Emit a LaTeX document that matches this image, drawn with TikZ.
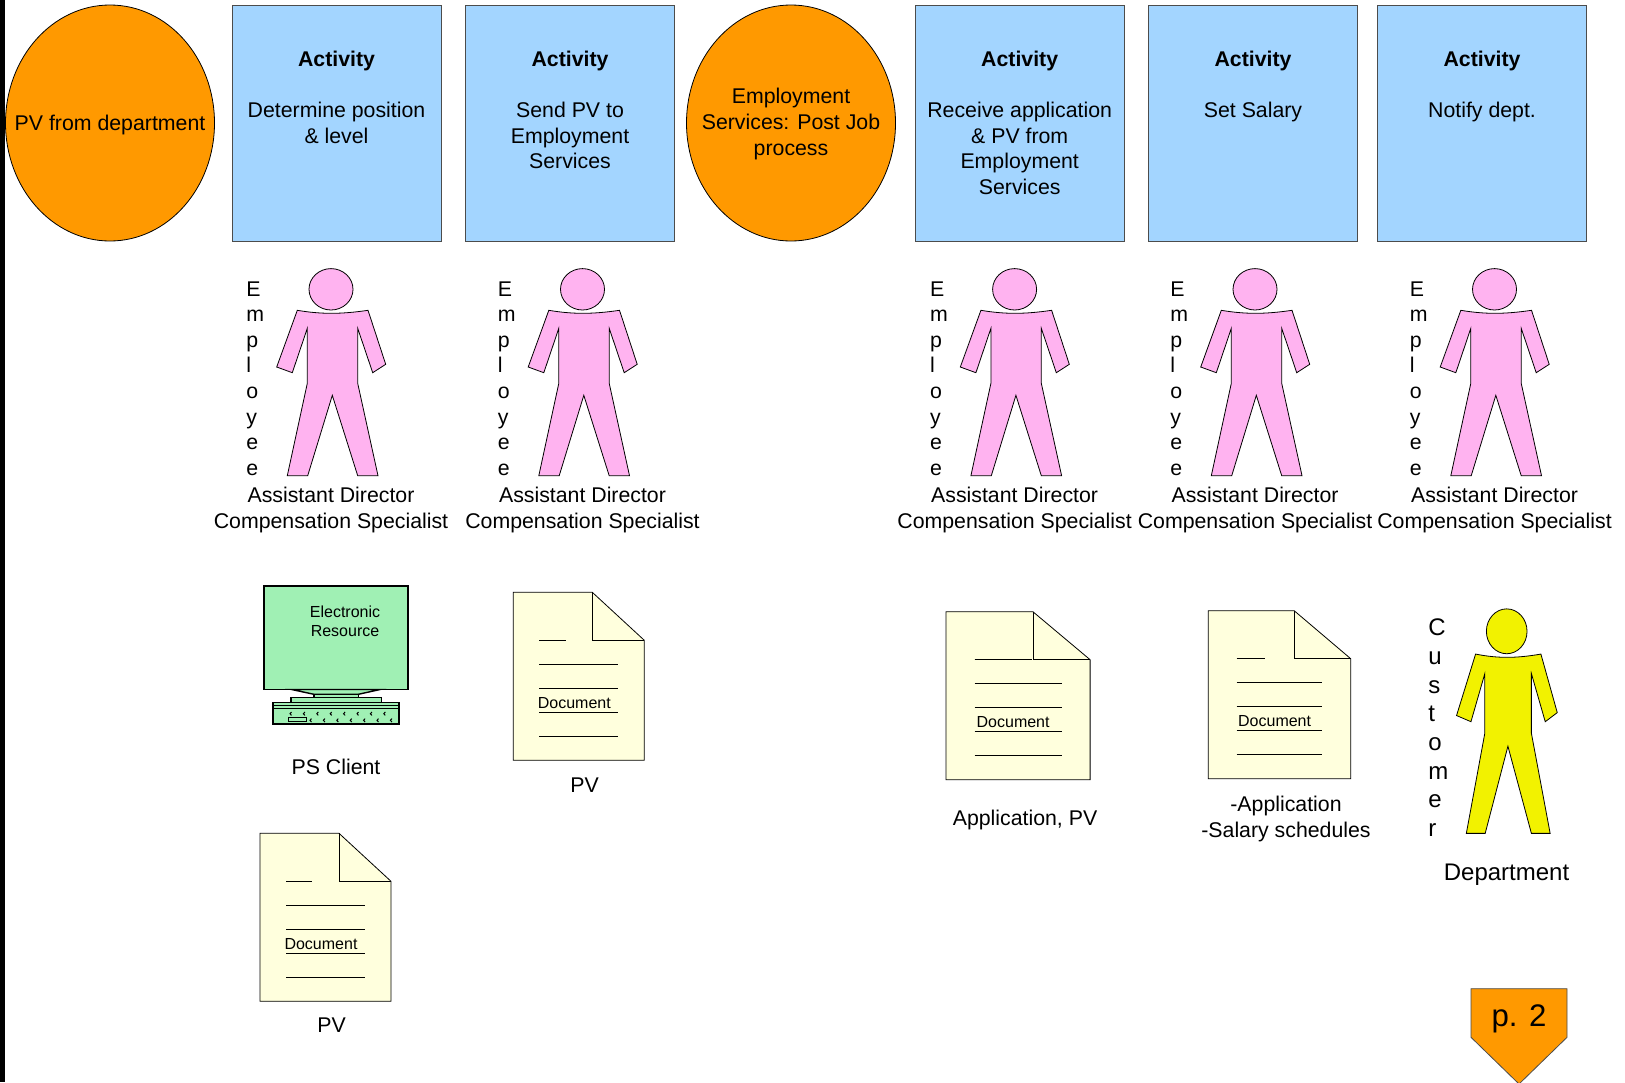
\documentclass[tikz,border=0pt]{standalone}
\usepackage{fontspec}
\setmainfont{Liberation Sans}
\usetikzlibrary{shapes.geometric}

\definecolor{orangefill}{HTML}{FF9900}
\definecolor{bluefill}{HTML}{A3D5FF}
\definecolor{pinkfill}{HTML}{FFB3F0}
\definecolor{yellowfill}{HTML}{F2F200}
\definecolor{greenfill}{HTML}{A0F0B4}
\definecolor{paperfill}{HTML}{FFFFDD}

\tikzset{
  txt/.style={font=\fontsize{10.65}{12.8}\selectfont, align=center, inner sep=0pt},
  bigtxt/.style={font=\fontsize{12}{14.35}\selectfont, align=left, inner sep=0pt},
  event/.style={ellipse, draw=black, thin, fill=orangefill, minimum width=104.5pt, minimum height=118pt, inner sep=0pt},
  activity/.style={rectangle, draw=black!70, thin, fill=bluefill, minimum width=104.5pt, minimum height=118pt, inner sep=0pt},
  acttext/.style={txt, anchor=north},
  vertword/.style={txt, align=left, anchor=north west},
  person/.pic={
    \path[pic actions] (0,0) ellipse [x radius=22, y radius=20.7];
    \path[pic actions] (-33.7,21) .. controls (-10,25) and (10,25) .. (37,21) -- (54.7,75) -- (41.7,83.4)
      -- (26.7,39) -- (26.7,94) -- (47,186.4) -- (26.7,186.4) -- (1.3,106) -- (-23.3,186.4) -- (-43.7,186.4)
      -- (-23.7,94) -- (-23.7,39) -- (-38.7,83.4) -- (-54.3,77.7) -- cycle;
  },
  paper/.pic={
    \draw[fill=paperfill, thin] (0,0) -- (79,0) -- (131,48) -- (131,168) -- (0,168) -- cycle;
    \draw[thin] (79,0) -- (79,48) -- (131,48);
    \draw[thin] (26,48) -- (52.4,48);
    \draw[thin] (26,72) -- (105,72);
    \draw[thin] (26,95.7) -- (105,95.7);
    \draw[thin] (26,120) -- (105,120);
    \draw[thin] (26,143.7) -- (105,143.7);
    \node[font=\fontsize{8}{9}\selectfont, inner sep=0pt] (label) at (61,110.8) {Document};
  }
}

\begin{document}
\begin{tikzpicture}[x=0.5pt,y=-0.5pt]
  \useasboundingbox (0,0) rectangle (1625,1082);
  \fill[black] (0,0) rectangle (5,1082);

  % top row
  \node[event] (pvdept) at (110,123) {};
  \node[txt] (pvdepttext) at (110,124.5) {PV from department};
  \node[activity] (act1) at (336.5,123) {};
  \node[acttext] (acttext1) at (336.5,50.5) {\textbf{Activity}\\[12.8pt]Determine position\\\& level};
  \node[activity] (act2) at (570,123) {};
  \node[acttext] (acttext2) at (570,50.5) {\textbf{Activity}\\[12.8pt]Send PV to\\Employment\\Services};
  \node[event] (postjob) at (791,123) {};
  \node[txt] (postjobtext) at (791,124) {Employment\\Services: Post Job\\process};
  \node[activity] (act3) at (1019.7,123) {};
  \node[acttext] (acttext3) at (1019.7,50.5) {\textbf{Activity}\\[12.8pt]Receive application\\\& PV from\\Employment\\Services};
  \node[activity] (act4) at (1253,123) {};
  \node[acttext] (acttext4) at (1253,50.5) {\textbf{Activity}\\[12.8pt]Set Salary};
  \node[activity] (act5) at (1482,123) {};
  \node[acttext] (acttext5) at (1482,50.5) {\textbf{Activity}\\[12.8pt]Notify dept.};

  % employees
  \pic[fill=pinkfill, draw=black, thin] at (331,289.3) {person};
  \node[vertword] (emp1) at (246,281) {E\\m\\p\\l\\o\\y\\e\\e};
  \node[txt] (role1) at (331,510) {Assistant Director\\Compensation Specialist};
  \pic[fill=pinkfill, draw=black, thin] at (582.5,289.3) {person};
  \node[vertword] (emp2) at (497.5,281) {E\\m\\p\\l\\o\\y\\e\\e};
  \node[txt] (role2) at (582.5,510) {Assistant Director\\Compensation Specialist};
  \pic[fill=pinkfill, draw=black, thin] at (1014.6,289.3) {person};
  \node[vertword] (emp3) at (929.6,281) {E\\m\\p\\l\\o\\y\\e\\e};
  \node[txt] (role3) at (1014.6,510) {Assistant Director\\Compensation Specialist};
  \pic[fill=pinkfill, draw=black, thin] at (1255,289.3) {person};
  \node[vertword] (emp4) at (1170,281) {E\\m\\p\\l\\o\\y\\e\\e};
  \node[txt] (role4) at (1255,510) {Assistant Director\\Compensation Specialist};
  \pic[fill=pinkfill, draw=black, thin] at (1494.5,289.3) {person};
  \node[vertword] (emp5) at (1409.5,281) {E\\m\\p\\l\\o\\y\\e\\e};
  \node[txt] (role5) at (1494.5,510) {Assistant Director\\Compensation Specialist};

  % computer
  \draw[fill=greenfill, line width=0.8pt] (263.7,585.7) rectangle (408,689.5);
  \draw[fill=greenfill, line width=0.7pt] (291.7,689.5) -- (314,694.3) -- (358.3,694.3) -- (380,689.5) -- cycle;
  \draw[fill=greenfill, line width=0.7pt] (314,694.3) rectangle (358.3,697.7);
  \draw[fill=greenfill, line width=0.7pt] (291,697.7) rectangle (381.3,702.3);
  \draw[fill=greenfill, line width=0.8pt] (272.7,702.3) rectangle (399,724);
  \draw[thin] (272.7,705.7) -- (399,705.7);
  \draw[thin] (272.7,708.7) -- (399,708.7);
  \foreach \kx in {290,303.4,...,386}
    \draw[line width=0.5pt] (\kx+1.5,712) -- (\kx,713.7) -- (\kx+1.5,715.4);
  \foreach \kx in {310,323.4,...,392}
    \draw[line width=0.5pt] (\kx+1.5,718.6) -- (\kx,720.3) -- (\kx+1.5,722);
  \draw[thin] (288.7,717.7) rectangle (306.7,721);
  \node[txt, font=\fontsize{8}{9.6}\selectfont] (screen) at (345,621.3) {Electronic\\Resource};
  \node[txt] (psclient) at (336,767) {PS Client};

  % documents
  \pic (docpv) at (513.3,592.3) {paper};
  \node[txt] (pvlabel) at (584.5,785) {PV};
  \pic (docpvb) at (260,833.3) {paper};
  \node[txt] (pvblabel) at (331.6,1025.5) {PV};
  \pic[xscale=1.1] (docapp) at (946,611.7) {paper};
  \draw[thin] (974.7,659.7) -- (1032,659.7);
  \node[txt] (applabel) at (1025,819.5) {Application, PV};
  \pic[xscale=1.087] (docsal) at (1208.3,610.7) {paper};
  \node[txt] (sallabel) at (1286,819) {-Application\\-Salary schedules};

  % customer
  \pic[fill=yellowfill, draw=black, thin, xscale=0.924, yscale=1.084] at (1506.7,631.3) {person};
  \node[bigtxt, anchor=north west] (cust) at (1428,618.5) {C\\u\\s\\t\\o\\m\\e\\r};
  \node[bigtxt] (custrole) at (1506.5,874.5) {Department};

  % off-page
  \draw[fill=orangefill, draw=black!70, thin] (1471,988.7) -- (1567,988.7) -- (1567,1037.3) -- (1519,1084) -- (1471,1037.3) -- cycle;
  \node[inner sep=0pt, font=\fontsize{15.6}{19}\selectfont] (page) at (1519,1019) {p. 2};
\end{tikzpicture}
\end{document}
